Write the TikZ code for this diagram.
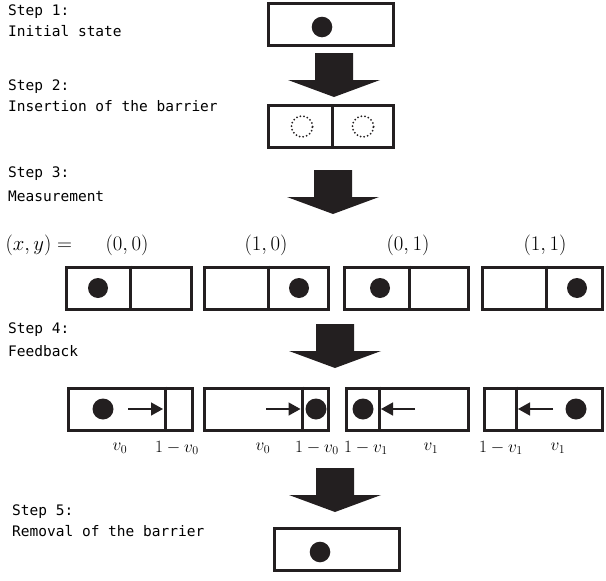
\documentclass[tikz,border=0pt]{standalone}
\usepackage{fontspec}
\usepackage{amsmath}
\usetikzlibrary{arrows.meta,positioning}
\newfontfamily\stepfont{DejaVu Sans Mono}
\definecolor{ink}{RGB}{35,31,32}

\begin{document}
\begin{tikzpicture}[x=1pt, y=-1pt,
  chamber/.style = {draw = ink, line width = 3pt, minimum width = 125pt, minimum height = 42pt, inner sep = 0pt},
  wall/.style = {draw = ink, line width = 3pt},
  steplabel/.style = {anchor = north west, align = left, inner sep = 0pt, font = \stepfont\fontsize{14.5}{21}\selectfont},
  state/.style = {font = \fontsize{21}{24}\selectfont},
  share/.style = {font = \fontsize{17.5}{20}\selectfont},
  ghost/.style = {draw = ink, line width = 2pt, dash pattern = on 0pt off 3.6pt, line cap = round},
  push/.style = {draw = ink, line width = 1.5pt, -{Triangle[length = 12pt, width = 13pt]}},
  bigarrow/.pic = {\fill[ink] (-19,0) -- (19,0) -- (19,27) -- (46,27) -- (0,44) -- (-46,27) -- (-19,27) -- cycle;}
]
\useasboundingbox (0,0) rectangle (606,581);

% step labels
\node[steplabel] (t1) at (8,5)   {Step 1:\\Initial state};
\node[steplabel] (t2) at (8,80)  {Step 2:\\Insertion of the barrier};
\node[steplabel] (t3) at (8,167) {Step 3:\\[3pt]Measurement};
\node[steplabel] (t4) at (8,323) {Step 4:\\[2pt]Feedback};
\node[steplabel] (t5) at (12,505) {Step 5:\\Removal of the barrier};

% step 1
\node[chamber] (init) at (331,24.5) {};
\fill[ink] ([xshift = -9pt, yshift = -2.5pt]init.center) circle (10.3pt);
\pic at (334,53) {bigarrow};

% step 2
\node[chamber] (ins) at (331,126.5) {};
\draw[wall] ([xshift = 1pt]ins.north) -- ([xshift = 1pt]ins.south);
\draw[ghost] ([xshift = -29pt]ins.center) circle (10.5pt);
\draw[ghost] ([xshift = 32pt]ins.center) circle (10.5pt);
\pic at (333,170) {bigarrow};

% step 3
\node[state, anchor = west] (xy) at (2,245) {$(x, y) =$};
\node[state] (m00) at (127,245) {$(0, 0)$};
\node[state] (m10) at (266,245) {$(1, 0)$};
\node[state] (m01) at (408,245) {$(0, 1)$};
\node[state] (m11) at (545,245) {$(1, 1)$};

\node[chamber] (ma) at (129,288) {};
\node[chamber, minimum width = 124pt] (mb) at (266.5,288) {};
\node[chamber, minimum width = 124pt] (mc) at (406.5,288) {};
\node[chamber, minimum width = 120pt] (md) at (542.5,288) {};
\draw[wall] ([xshift = 1pt]ma.north) -- ([xshift = 1pt]ma.south);
\draw[wall] ([xshift = 1.5pt]mb.north) -- ([xshift = 1.5pt]mb.south);
\draw[wall] ([xshift = 2.5pt]mc.north) -- ([xshift = 2.5pt]mc.south);
\draw[wall] ([xshift = 3.5pt]md.north) -- ([xshift = 3.5pt]md.south);
\fill[ink] ([xshift = -31pt]ma.center) circle (10pt);
\fill[ink] ([xshift = 32.5pt]mb.center) circle (10pt);
\fill[ink] ([xshift = -26.5pt]mc.center) circle (10pt);
\fill[ink] ([xshift = 34.5pt]md.center) circle (10pt);
\pic at (335,324) {bigarrow};

% step 4
\node[chamber, minimum width = 124pt] (fa) at (130.5,409) {};
\node[chamber, minimum width = 124pt] (fb) at (266.5,409) {};
\node[chamber, minimum width = 122pt] (fc) at (407.5,409) {};
\node[chamber, minimum width = 118pt] (fd) at (543.5,409) {};
\draw[wall] ([xshift = 34.5pt]fa.north) -- ([xshift = 34.5pt]fa.south);
\draw[wall] ([xshift = 35.5pt]fb.north) -- ([xshift = 35.5pt]fb.south);
\draw[wall] ([xshift = -28.5pt]fc.north) -- ([xshift = -28.5pt]fc.south);
\draw[wall] ([xshift = -27.5pt]fd.north) -- ([xshift = -27.5pt]fd.south);
\fill[ink] ([xshift = -27.5pt]fa.center) circle (10.5pt);
\fill[ink] ([xshift = 49.5pt]fb.center) circle (10.5pt);
\fill[ink] ([xshift = -44.5pt]fc.center) circle (10.5pt);
\fill[ink] ([xshift = 32.5pt]fd.center) circle (10.5pt);
\draw[push] ([xshift = -2.5pt]fa.center) -- ([xshift = 32.5pt]fa.center);
\draw[push] ([xshift = -0.5pt]fb.center) -- ([xshift = 34pt]fb.center);
\draw[push] ([xshift = 7.5pt]fc.center) -- ([xshift = -26.5pt]fc.center);
\draw[push] ([xshift = 9.5pt]fd.center) -- ([xshift = -25.5pt]fd.center);

\node[share] (wa) at (120,448) {$v_0$};
\node[share] (ua) at (177,448) {$1-v_0$};
\node[share] (wb) at (263,448) {$v_0$};
\node[share] (ub) at (317,448) {$1-v_0$};
\node[share] (uc) at (366,448) {$1-v_1$};
\node[share] (wc) at (431,448) {$v_1$};
\node[share] (ud) at (501,448) {$1-v_1$};
\node[share] (wd) at (558,448) {$v_1$};
\pic at (335,468) {bigarrow};

% step 5
\node[chamber] (rem) at (336.5,549) {};
\fill[ink] ([xshift = -16.5pt, yshift = -3pt]rem.center) circle (10.3pt);
\end{tikzpicture}
\end{document}
